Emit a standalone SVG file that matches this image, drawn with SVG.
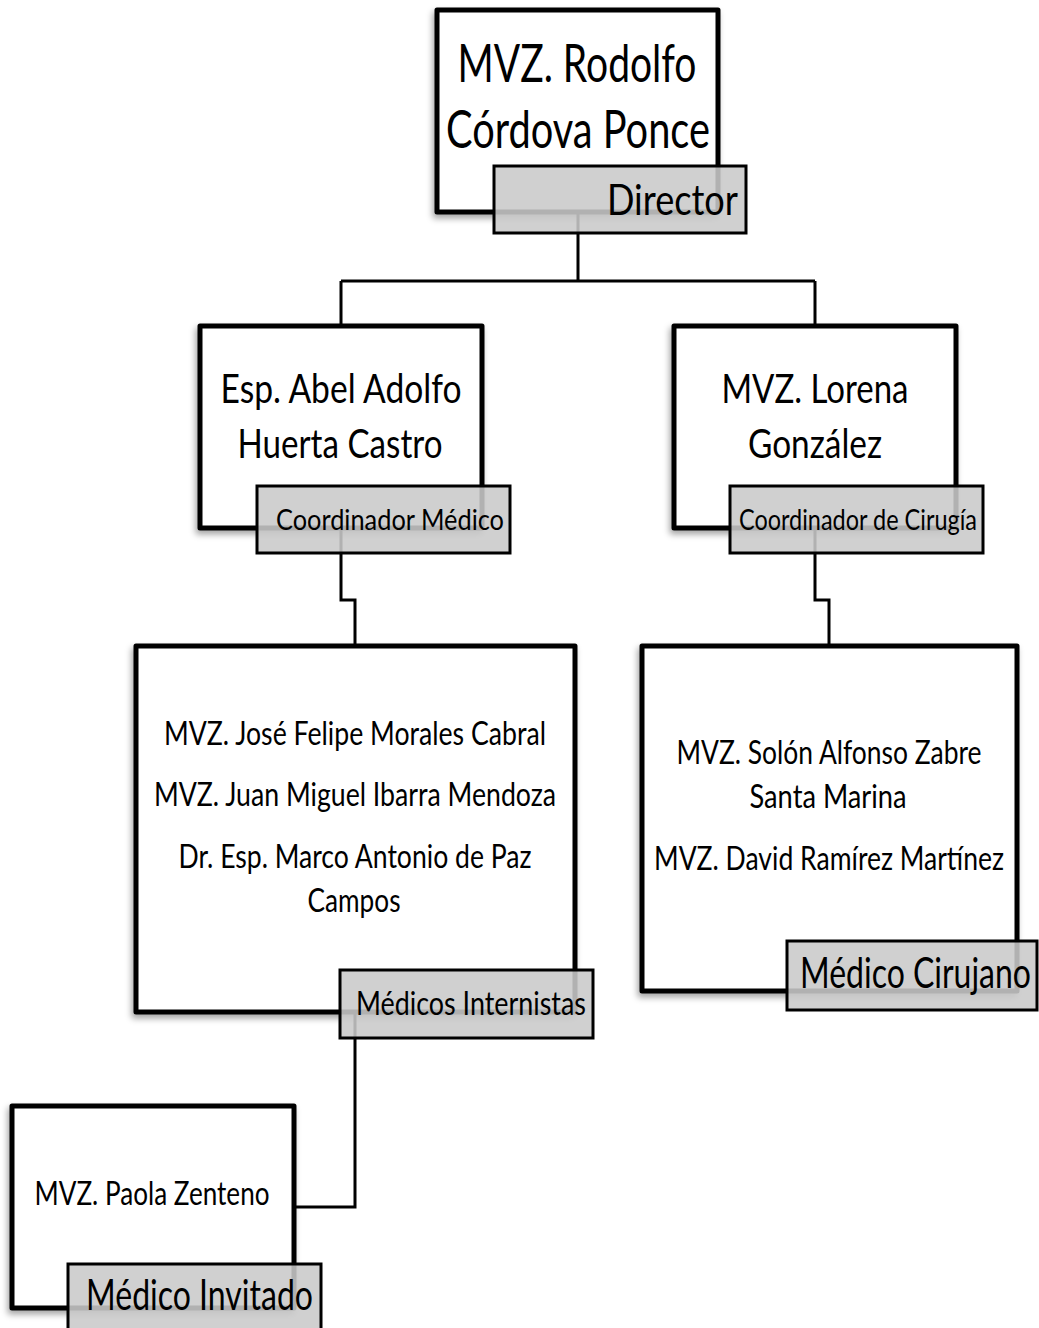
<svg xmlns="http://www.w3.org/2000/svg" width="1039" height="1328" viewBox="0 0 1039 1328">
<defs>
<filter id="sh" x="-10%" y="-10%" width="120%" height="125%">
<feDropShadow dx="-2" dy="4" stdDeviation="3" flood-color="#000" flood-opacity="0.35"/>
</filter>
</defs>
<style>
.box{fill:#fff;stroke:#000;stroke-width:5;stroke-linejoin:round;filter:url(#sh)}
.lab{fill:#c9c9c9;fill-opacity:0.88;stroke:#000;stroke-width:3}
.conn{fill:none;stroke:#000;stroke-width:3}
text{font-family:Lato,"Open Sans","Liberation Sans",sans-serif;fill:#000}
.c{text-anchor:middle}
</style>
<rect width="1039" height="1328" fill="#fff"/>
<g id="connectors">
<path class="conn" d="M578 212 V281 M341 281 H815 M341 281 V326 M815 281 V326"/>
<path class="conn" d="M341 528 V600 H355 V646"/>
<path class="conn" d="M815 528 V600 H829 V646"/>
<path class="conn" d="M355 1012 V1207 H294"/>
</g>
<g id="director">
<rect class="box" x="437" y="10" width="281" height="202"/>
<text class="c" x="577" y="82" font-size="52" textLength="239" lengthAdjust="spacingAndGlyphs">MVZ. Rodolfo</text>
<text class="c" x="578" y="148" font-size="52" textLength="264" lengthAdjust="spacingAndGlyphs">Córdova Ponce</text>
<rect class="lab" x="494" y="166" width="252" height="67"/>
<text x="607" y="215" font-size="42" textLength="131" lengthAdjust="spacingAndGlyphs">Director</text>
</g>
<g id="coord-medico">
<rect class="box" x="200" y="326" width="282" height="202"/>
<text class="c" x="341" y="403" font-size="41" textLength="241" lengthAdjust="spacingAndGlyphs">Esp. Abel Adolfo</text>
<text class="c" x="340" y="458" font-size="41" textLength="205" lengthAdjust="spacingAndGlyphs">Huerta Castro</text>
<rect class="lab" x="257" y="486" width="253" height="67"/>
<text x="276" y="530" font-size="29" textLength="228" lengthAdjust="spacingAndGlyphs">Coordinador Médico</text>
</g>
<g id="coord-cirugia">
<rect class="box" x="674" y="326" width="282" height="202"/>
<text class="c" x="815" y="403" font-size="41" textLength="187" lengthAdjust="spacingAndGlyphs">MVZ. Lorena</text>
<text class="c" x="815" y="458" font-size="41" textLength="134" lengthAdjust="spacingAndGlyphs">González</text>
<rect class="lab" x="730" y="486" width="253" height="67"/>
<text x="739" y="530" font-size="29" textLength="238" lengthAdjust="spacingAndGlyphs">Coordinador de Cirugía</text>
</g>
<g id="internistas">
<rect class="box" x="136" y="646" width="439" height="366"/>
<text class="c" x="355" y="745" font-size="33" textLength="382" lengthAdjust="spacingAndGlyphs">MVZ. José Felipe Morales Cabral</text>
<text class="c" x="355" y="806" font-size="33" textLength="402" lengthAdjust="spacingAndGlyphs">MVZ. Juan Miguel Ibarra Mendoza</text>
<text class="c" x="355" y="868" font-size="33" textLength="353" lengthAdjust="spacingAndGlyphs">Dr. Esp. Marco Antonio de Paz</text>
<text class="c" x="354" y="912" font-size="33" textLength="93" lengthAdjust="spacingAndGlyphs">Campos</text>
<rect class="lab" x="340" y="970" width="253" height="68"/>
<text x="356" y="1015" font-size="32" textLength="230" lengthAdjust="spacingAndGlyphs">Médicos Internistas</text>
</g>
<g id="cirujano">
<rect class="box" x="642" y="646" width="375" height="345"/>
<text class="c" x="829" y="764" font-size="33" textLength="305" lengthAdjust="spacingAndGlyphs">MVZ. Solón Alfonso Zabre</text>
<text class="c" x="828" y="808" font-size="33" textLength="157" lengthAdjust="spacingAndGlyphs">Santa Marina</text>
<text class="c" x="829" y="870" font-size="33" textLength="350" lengthAdjust="spacingAndGlyphs">MVZ. David Ramírez Martínez</text>
<rect class="lab" x="787" y="941" width="250" height="69"/>
<text x="800" y="988" font-size="42" textLength="231" lengthAdjust="spacingAndGlyphs">Médico Cirujano</text>
</g>
<g id="invitado">
<rect class="box" x="12" y="1106" width="282" height="202"/>
<text class="c" x="152" y="1205" font-size="32" textLength="235" lengthAdjust="spacingAndGlyphs">MVZ. Paola Zenteno</text>
<rect class="lab" x="68" y="1264" width="253" height="70"/>
<text x="86" y="1310" font-size="42" textLength="227" lengthAdjust="spacingAndGlyphs">Médico Invitado</text>
</g>
</svg>
